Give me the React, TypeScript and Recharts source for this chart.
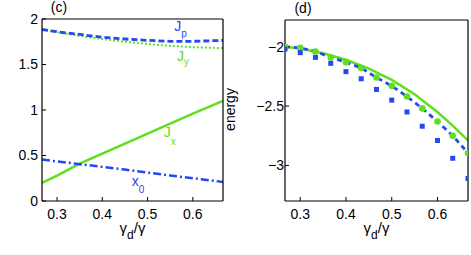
import React from "react";
import { ComposedChart, Line, XAxis, YAxis, ReferenceDot } from "recharts";

const BLUE = "#2448f2";
const GREEN = "#5ee01e";
const FONT = "'Liberation Sans', Arial, Helvetica, sans-serif";

// panel (c)
const xGrid = [0.2667, 0.3, 0.35, 0.4, 0.45, 0.5, 0.55, 0.6, 0.6667];
const jpValues = [1.885, 1.86, 1.83, 1.8, 1.78, 1.765, 1.755, 1.755, 1.765];
const jyValues = [1.885, 1.855, 1.815, 1.78, 1.75, 1.725, 1.705, 1.69, 1.68];
const jxValues = [0.2, 0.28, 0.41, 0.52, 0.63, 0.74, 0.85, 0.96, 1.1];
const x0Values = [0.455, 0.435, 0.405, 0.375, 0.345, 0.312, 0.28, 0.25, 0.21];

// panel (d)
const markX = [0.2667, 0.3, 0.3333, 0.3667, 0.4, 0.4333, 0.4667, 0.5, 0.5333, 0.5667, 0.6, 0.6333, 0.6667];
const circleValues = [-2.0, -2.01, -2.04, -2.09, -2.13, -2.18, -2.26, -2.33, -2.42, -2.52, -2.63, -2.75, -2.895];
const squareValues = [-2.02, -2.05, -2.09, -2.14, -2.21, -2.27, -2.36, -2.45, -2.55, -2.67, -2.79, -2.94, -3.11];
const curveX = [0.2667, 0.3, 0.35, 0.4, 0.45, 0.5, 0.55, 0.6, 0.6333, 0.6667];
const curveValues = [-2.0, -2.015, -2.055, -2.11, -2.185, -2.28, -2.4, -2.55, -2.665, -2.79];

const xTicks = [0.3, 0.4, 0.5, 0.6];
const leftYTicks = [0, 0.5, 1, 1.5, 2];
const rightYTicks = [-3, -2.5, -2];

const leftData = xGrid.map((x, i) => ({
  x,
  jp: jpValues[i],
  jy: jyValues[i],
  jx: jxValues[i],
  x0: x0Values[i],
}));
const circleData = markX.map((x, i) => ({ x, v: circleValues[i] }));
const squareData = markX.map((x, i) => ({ x, v: squareValues[i] }));
const curveData = curveX.map((x, i) => ({ x, v: curveValues[i] }));

const fmt = (v: number) => (v < 0 ? "\u2212" + Math.abs(v) : String(v));

const axisLine = { stroke: "#000", strokeWidth: 1.2 };
const tickLine = { stroke: "#000", strokeWidth: 1 };
const tickStyle = { fill: "#000", fontSize: 14, fontFamily: FONT };

const xLabel = (props: any) => {
  const { x, y, width } = props.viewBox;
  return (
    <text x={x + width / 2} y={y + 32} textAnchor="middle" fill="#000" fontSize={15} fontFamily={FONT}>
      <tspan>γ</tspan>
      <tspan dy={6} fontSize={12}>d</tspan>
      <tspan dy={-6}>/γ</tspan>
    </text>
  );
};

const title = (t: string, dx: number) => (props: any) => {
  const { x, y } = props.viewBox;
  return (
    <text x={x + dx} y={y - 6} textAnchor="middle" fill="#000" fontSize={14} fontFamily={FONT}>
      {t}
    </text>
  );
};

const energyLabel = (props: any) => {
  const { x, y, height } = props.viewBox;
  const cx = x - 20;
  const cy = y + height / 2 - 1;
  return (
    <text x={cx} y={cy} transform={`rotate(-90 ${cx} ${cy})`} textAnchor="middle" fill="#000" fontSize={14} fontFamily={FONT}>
      energy
    </text>
  );
};

const subText = (main: string, sub: string, color: string, dy: number) => (props: any) => {
  const { x, y } = props.viewBox;
  return (
    <text x={x} y={y} fill={color} fontSize={14} fontFamily={FONT}>
      <tspan>{main}</tspan>
      <tspan dy={dy} fontSize={10}>{sub}</tspan>
    </text>
  );
};

const circleDot = (p: any) => (
  <circle key={`c-${p.index}`} cx={p.cx} cy={p.cy} r={3.3} fill={GREEN} />
);
const squareDot = (p: any) => (
  <rect key={`s-${p.index}`} x={p.cx - 2.5} y={p.cy - 2.5} width={5} height={5} fill={BLUE} />
);

const App = () => (
  <div style={{ position: "absolute", left: 0, top: 0, width: 471, height: 255, background: "#fff" }}>
    {/* (c) */}
    <div style={{ position: "absolute", left: 0, top: 0 }}>
      <ComposedChart width={240} height={255} data={leftData} margin={{ top: 18, right: 16, bottom: 24, left: 12 }}>
        <XAxis
          dataKey="x"
          type="number"
          domain={[0.2667, 0.6667]}
          ticks={xTicks}
          allowDataOverflow
          height={30}
          tickSize={-4}
          tickMargin={12}
          axisLine={axisLine}
          tickLine={tickLine}
          tick={tickStyle}
          label={xLabel}
        />
        <XAxis
          xAxisId="t"
          orientation="top"
          dataKey="x"
          type="number"
          domain={[0.2667, 0.6667]}
          ticks={xTicks}
          allowDataOverflow
          height={1}
          tickSize={-4}
          axisLine={axisLine}
          tickLine={tickLine}
          tick={false}
          label={title("(c)", 17)}
        />
        <YAxis
          type="number"
          domain={[0, 2]}
          ticks={leftYTicks}
          width={30}
          tickSize={-4}
          tickMargin={8}
          axisLine={axisLine}
          tickLine={tickLine}
          tick={tickStyle}
        />
        <YAxis
          yAxisId="r"
          orientation="right"
          type="number"
          domain={[0, 2]}
          ticks={leftYTicks}
          width={1}
          tickSize={-4}
          axisLine={axisLine}
          tickLine={tickLine}
          tick={false}
        />
        <Line dataKey="jy" stroke={GREEN} strokeWidth={2} strokeDasharray="2 2" dot={false} isAnimationActive={false} />
        <Line dataKey="jp" stroke={BLUE} strokeWidth={2.8} strokeDasharray="6 3" dot={false} isAnimationActive={false} />
        <Line dataKey="jx" stroke={GREEN} strokeWidth={2.5} dot={false} isAnimationActive={false} />
        <Line dataKey="x0" stroke={BLUE} strokeWidth={2.5} strokeDasharray="8 3 2 3" dot={false} isAnimationActive={false} />
        <ReferenceDot x={0.559} y={1.871} r={0} fill="none" stroke="none" label={subText("J", "p", BLUE, 6)} />
        <ReferenceDot x={0.565} y={1.538} r={0} fill="none" stroke="none" label={subText("J", "y", GREEN, 4)} />
        <ReferenceDot x={0.536} y={0.703} r={0} fill="none" stroke="none" label={subText("J", "x", GREEN, 8)} />
        <ReferenceDot x={0.465} y={0.168} r={0} fill="none" stroke="none" label={subText("x", "0", BLUE, 7)} />
      </ComposedChart>
    </div>
    {/* (d) */}
    <div style={{ position: "absolute", left: 220, top: 0 }}>
      <ComposedChart width={251} height={255} margin={{ top: 19, right: 2, bottom: 24, left: 35 }}>
        <XAxis
          dataKey="x"
          type="number"
          domain={[0.2667, 0.6667]}
          ticks={xTicks}
          allowDataOverflow
          height={30}
          tickSize={-4}
          tickMargin={12}
          axisLine={axisLine}
          tickLine={tickLine}
          tick={tickStyle}
          label={xLabel}
        />
        <XAxis
          xAxisId="t"
          orientation="top"
          dataKey="x"
          type="number"
          domain={[0.2667, 0.6667]}
          ticks={xTicks}
          allowDataOverflow
          height={1}
          tickSize={-4}
          axisLine={axisLine}
          tickLine={tickLine}
          tick={false}
          label={title("(d)", 18)}
        />
        <YAxis
          type="number"
          domain={[-3.3, -1.775]}
          ticks={rightYTicks}
          allowDataOverflow
          width={30}
          tickSize={-4}
          tickMargin={5}
          axisLine={axisLine}
          tickLine={tickLine}
          tick={tickStyle}
          tickFormatter={fmt}
          label={energyLabel}
        />
        <YAxis
          yAxisId="r"
          orientation="right"
          type="number"
          domain={[-3.3, -1.775]}
          ticks={rightYTicks}
          allowDataOverflow
          width={1}
          tickSize={-4}
          axisLine={axisLine}
          tickLine={tickLine}
          tick={false}
        />
        <Line data={curveData} dataKey="v" stroke={GREEN} strokeWidth={2.5} dot={false} isAnimationActive={false} />
        <Line data={circleData} dataKey="v" stroke="none" dot={circleDot} isAnimationActive={false} />
        <Line data={circleData} dataKey="v" stroke={BLUE} strokeWidth={2.8} strokeDasharray="5 4" dot={false} isAnimationActive={false} />
        <Line data={squareData} dataKey="v" stroke="none" dot={squareDot} isAnimationActive={false} />
      </ComposedChart>
    </div>
  </div>
);

export default App;
